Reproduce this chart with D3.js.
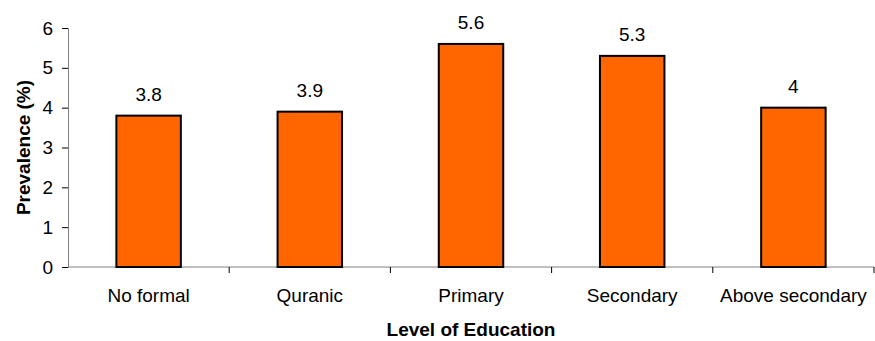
<!DOCTYPE html>
<html>
<head>
<meta charset="utf-8">
<script src="https://cdn.jsdelivr.net/npm/d3@7"></script>
<style>
  body { margin: 0; background: #fff; }
  text { font-family: "Liberation Sans", Arial, sans-serif; fill: #000; }
</style>
</head>
<body>
<div id="chart"></div>
<script>
// data
let categories = ["No formal", "Quranic", "Primary", "Secondary", "Above secondary"];
let prevalence = [3.8, 3.9, 5.6, 5.3, 4];
let yTicks = [0, 1, 2, 3, 4, 5, 6];

let svgWidth = 875;
let svgHeight = 341;
let margin = { top: 28, right: 1, bottom: 74, left: 68 };
let chartWidth = svgWidth - margin.left - margin.right;
let chartHeight = svgHeight - margin.top - margin.bottom;

let svg = d3.select("#chart").append("svg")
  .attr("width", svgWidth)
  .attr("height", svgHeight);

let chartGroup = svg.append("g")
  .attr("transform", `translate(${margin.left}, ${margin.top})`);

let xScale = d3.scaleBand().domain(categories).range([0, chartWidth]).paddingInner(0.6).paddingOuter(0.3);
let bandScale = d3.scaleBand().domain(categories).range([0, chartWidth]);
let yScale = d3.scaleLinear().domain([0, 6]).range([chartHeight, 0]);

// y axis
let yAxis = chartGroup.append("g")
  .call(d3.axisLeft(yScale).tickValues(yTicks).tickFormat(d3.format("d")).tickSize(6).tickPadding(9));
yAxis.selectAll("text").style("font-size", "19px");
yAxis.select(".domain").attr("stroke", "#808080");
yAxis.selectAll(".tick line").attr("stroke", "#000");

// x axis: ticks sit on band boundaries
let xAxis = chartGroup.append("g")
  .attr("transform", `translate(0, ${chartHeight})`);
xAxis.append("line")
  .attr("x1", 0).attr("x2", chartWidth)
  .attr("stroke", "#808080");
xAxis.selectAll(".tk")
  .data(categories)
  .enter().append("line")
  .attr("x1", d => bandScale(d) + bandScale.bandwidth())
  .attr("x2", d => bandScale(d) + bandScale.bandwidth())
  .attr("y1", 0).attr("y2", 6)
  .attr("stroke", "#000");
xAxis.selectAll(".lbl")
  .data(categories)
  .enter().append("text")
  .attr("x", d => bandScale(d) + bandScale.bandwidth() / 2)
  .attr("y", 35)
  .attr("text-anchor", "middle")
  .style("font-size", "19px")
  .text(d => d);

// bars
chartGroup.selectAll("rect")
  .data(prevalence)
  .enter().append("rect")
  .attr("x", (d, i) => xScale(categories[i]))
  .attr("y", d => yScale(d))
  .attr("width", xScale.bandwidth())
  .attr("height", d => chartHeight - yScale(d))
  .attr("fill", "#FF6600")
  .attr("stroke", "#000")
  .attr("stroke-width", 2);

// value labels
chartGroup.selectAll(".val")
  .data(prevalence)
  .enter().append("text")
  .attr("x", (d, i) => xScale(categories[i]) + xScale.bandwidth() / 2)
  .attr("y", d => yScale(d) - 15)
  .attr("text-anchor", "middle")
  .style("font-size", "19px")
  .text(d => d);

// axis titles
svg.append("text")
  .attr("x", margin.left + chartWidth / 2)
  .attr("y", 336)
  .attr("text-anchor", "middle")
  .style("font-size", "19px")
  .style("font-weight", "bold")
  .text("Level of Education");

svg.append("text")
  .attr("transform", `translate(30, ${margin.top + chartHeight / 2}) rotate(-90)`)
  .attr("text-anchor", "middle")
  .style("font-size", "19px")
  .style("font-weight", "bold")
  .text("Prevalence (%)");
</script>
</body>
</html>
